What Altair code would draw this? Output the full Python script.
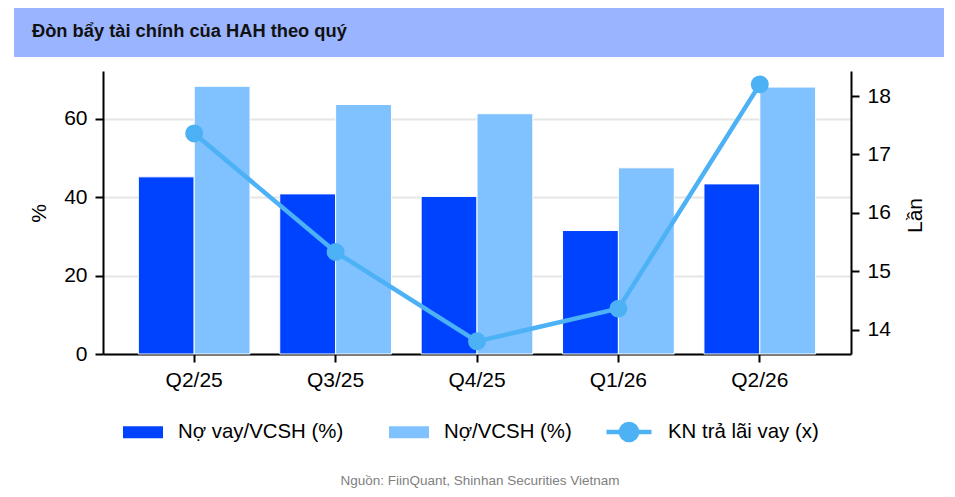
import altair as alt
import pandas as pd

# ---------------- data ----------------
quarters = ["Q2/25", "Q3/25", "Q4/25", "Q1/26", "Q2/26"]
no_vay_vcsh = [45.2, 40.85, 40.2, 31.5, 43.4]      # Nợ vay/VCSH (%)
no_vcsh = [68.3, 63.65, 61.3, 47.5, 68.1]          # Nợ/VCSH (%)
kn_tra_lai = [17.36, 15.33, 13.80, 14.36, 18.20]   # KN trả lãi vay (x)

series_bar = ["Nợ vay/VCSH (%)", "Nợ/VCSH (%)"]
series_line = "KN trả lãi vay (x)"
title_text = "Đòn bẩy tài chính của HAH theo quý"
source_text = "Nguồn: FiinQuant, Shinhan Securities Vietnam"

left_ticks = [0, 20, 40, 60]
right_ticks = [14, 15, 16, 17, 18]

# ---------------- styles ----------------
DARK = "#0043ff"
LIGHT = "#80c2ff"
LINEC = "#4cb1f5"
HEADER = "#9ab4ff"
FONT = "Liberation Sans"

W, H = 748, 283

rows = []
for q, a, b in zip(quarters, no_vay_vcsh, no_vcsh):
    rows.append({"quy": q, "series": series_bar[0], "value": a})
    rows.append({"quy": q, "series": series_bar[1], "value": b})
df_bars = pd.DataFrame(rows)
df_line = pd.DataFrame({"quy": quarters, "kn": kn_tra_lai, "label": series_line})

x_enc = alt.X(
    "quy:N",
    sort=quarters,
    scale=alt.Scale(paddingInner=0.21, paddingOuter=0.25),
    axis=alt.Axis(
        title=None, labelAngle=0, labelFontSize=21, labelColor="black",
        labelPadding=7, tickSize=8, tickWidth=2, tickColor="black",
        domainColor="black", domainWidth=2, grid=False,
    ),
)

rect_path = "M-1,-0.3L1,-0.3L1,0.3L-1,0.3Z"
line_path = "M-1,0L1,0M0.36,0A0.36,0.36,0,1,1,-0.36,0A0.36,0.36,0,1,1,0.36,0Z"

bars = alt.Chart(df_bars).mark_bar(stroke="white", strokeWidth=1).encode(
    x=x_enc,
    xOffset=alt.XOffset("series:N", sort=series_bar, scale=alt.Scale(paddingInner=0, paddingOuter=0)),
    y=alt.Y(
        "value:Q",
        scale=alt.Scale(domain=[0, 72.2], nice=False, zero=True),
        axis=alt.Axis(
            values=left_ticks, title="%", titleFontSize=21, titleFontWeight="normal",
            titleColor="black", titleAngle=270, titleX=-58, titleY=142,
            titleAlign="center", titleBaseline="alphabetic",
            labelFontSize=21, labelColor="black", labelPadding=8,
            tickSize=8, tickWidth=2, tickColor="black",
            domainColor="black", domainWidth=2,
            grid=True, gridColor="#e5e5e5", gridWidth=2,
        ),
    ),
    color=alt.Color(
        "series:N",
        sort=series_bar,
        scale=alt.Scale(domain=series_bar, range=[DARK, LIGHT]),
        legend=alt.Legend(
            title=None, orient="none", legendX=20, legendY=341,
            direction="horizontal", symbolType=rect_path, symbolSize=1600,
            symbolStrokeWidth=0, symbolOpacity=1,
            labelFontSize=20.4, labelColor="black", labelOffset=15,
            columnPadding=45, padding=0, labelLimit=400,
        ),
    ),
)

line = alt.Chart(df_line).mark_line(
    strokeWidth=4.5, color=LINEC,
    point=alt.OverlayMarkDef(filled=True, size=254, color=LINEC, opacity=1),
).encode(
    x=alt.X("quy:N", sort=quarters),
    y=alt.Y(
        "kn:Q",
        scale=alt.Scale(domain=[13.583, 18.429], nice=False, zero=False),
        axis=alt.Axis(
            orient="right", values=right_ticks, title="Lần", titleFontSize=21,
            titleFontWeight="normal", titleColor="black", titleAngle=270,
            titleX=70, titleY=144, titleAlign="center", titleBaseline="alphabetic",
            labelFontSize=21, labelColor="black", labelPadding=8,
            tickSize=8, tickWidth=2, tickColor="black",
            domainColor="black", domainWidth=2, grid=False,
        ),
    ),
    stroke=alt.Stroke(
        "label:N",
        scale=alt.Scale(domain=[series_line], range=[LINEC]),
        legend=alt.Legend(
            title=None, orient="none", legendX=501, legendY=336,
            symbolType=line_path, symbolSize=2025, symbolStrokeWidth=4.5,
            symbolFillColor=LINEC, symbolStrokeColor=LINEC, symbolOpacity=1,
            labelFontSize=20.4, labelColor="black", labelOffset=14,
            padding=0, labelLimit=400,
        ),
    ),
)

one = alt.Data(values=[{}])

header = alt.Chart(one).mark_rect(color=HEADER).encode(
    x=alt.value(-89), x2=alt.value(841), y=alt.value(-63), y2=alt.value(-14)
)
header_text = alt.Chart(one).mark_text(
    align="left", baseline="alphabetic", fontSize=18.3, fontWeight="bold", color="#111111"
).encode(x=alt.value(-71), y=alt.value(-34.5), text=alt.value(title_text))

source = alt.Chart(one).mark_text(
    align="center", baseline="alphabetic", fontSize=13.5, color="#808080"
).encode(x=alt.value(377), y=alt.value(414), text=alt.value(source_text))

chart = (
    alt.layer(header, header_text, bars, line, source)
    .resolve_scale(y="independent", color="independent", stroke="independent")
    .resolve_legend(color="independent", stroke="independent")
    .properties(
        width=W, height=H,
        autosize=alt.AutoSizeParams(type="none"),
        padding={"left": 95, "top": 63, "right": 96, "bottom": 135},
    )
    .configure(font=FONT)
    .configure_view(stroke=None)
)

chart.save("out.html", embed_options={"renderer": "svg", "actions": False})
